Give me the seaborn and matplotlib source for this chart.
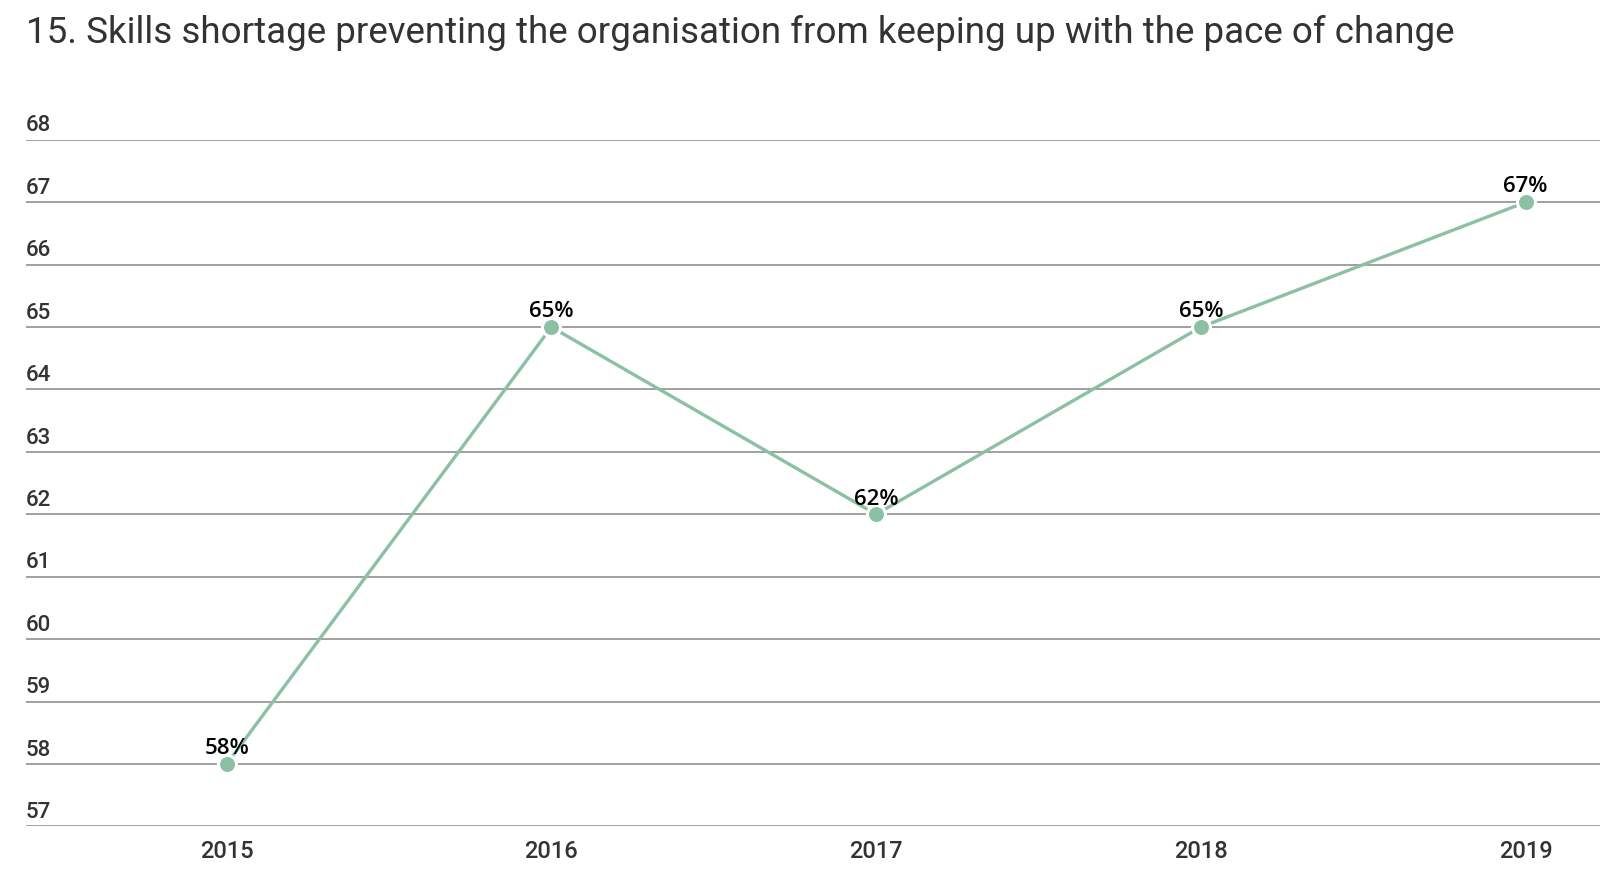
import numpy as np
import pandas as pd
import seaborn as sns
import matplotlib.pyplot as plt
import matplotlib.transforms as mtransforms

# data
years = [2015, 2016, 2017, 2018, 2019]
values = [58, 65, 62, 65, 67]
y_ticks = list(range(57, 69))

df = pd.DataFrame({"year": years, "value": values})

sns.set_theme(style="white")
plt.rcParams['font.family'] = ['Roboto', 'DejaVu Sans']

line_color = "#8cc0a4"
grid_color = "#a0a0a0"
text_color = "#333333"

fig = plt.figure(figsize=(16, 8.96), dpi=100)
ax = fig.add_axes([0.016, 0.0776, 0.984, 0.7664])

# gridlines
for v in y_ticks:
    ax.axhline(v, color=grid_color, lw=1.4, zorder=1)

sns.lineplot(data=df, x="year", y="value", color=line_color, lw=2.4,
             marker="o", markersize=13, markeredgecolor="white",
             markeredgewidth=2.2, ax=ax, zorder=3)

ax.set_xlim(2015 - 0.619, 2019 + 0.229)
ax.set_ylim(57, 68)

for s in ax.spines.values():
    s.set_visible(False)
ax.set_yticks([])
ax.set_xticks(years)
ax.set_xticklabels([str(y) for y in years], fontsize=17, color=text_color,
                   fontweight="medium")
ax.tick_params(axis="x", length=0, pad=10)
ax.set_xlabel("")
ax.set_ylabel("")

# y labels above the gridlines at the left
trans = mtransforms.blended_transform_factory(ax.transAxes, ax.transData)
for v in y_ticks:
    ax.annotate(str(v), (0, v), xycoords=trans, xytext=(0, 6),
                textcoords="offset points", ha="left", va="baseline",
                fontsize=16, color=text_color, fontweight="medium")

# data labels
for x, v in zip(years, values):
    ax.annotate(f"{v}%", (x, v), xytext=(0, 7), textcoords="offset points",
                ha="center", va="baseline", fontsize=16, color="black",
                fontweight="semibold", family=["Open Sans", "DejaVu Sans"],
                zorder=5)

fig.text(0.016, 0.952, "15. Skills shortage preventing the organisation from keeping up with the pace of change",
         fontsize=26.5, color=text_color, ha="left", va="baseline")

plt.savefig("out.png", dpi=100)
